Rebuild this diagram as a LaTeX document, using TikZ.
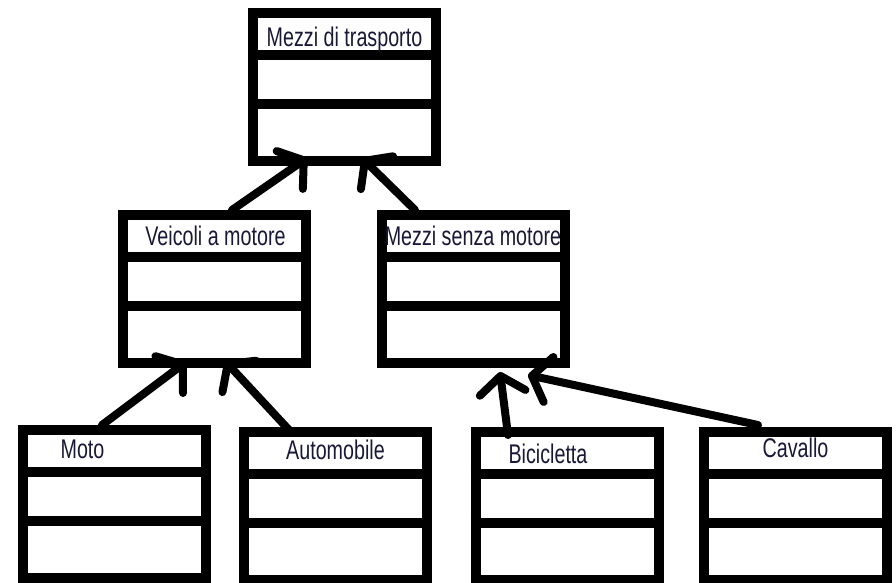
\documentclass[tikz,border=0pt]{standalone}
\usepackage{fontspec}
\newfontfamily\boxfont[FakeStretch=0.73]{Liberation Sans}
\usepackage{tikz}
\usetikzlibrary{positioning,arrows.meta,calc}

\definecolor{namecol}{RGB}{25,25,55}

\tikzset{
    classbox/.style={draw, line width=10pt, minimum width=183pt, minimum height=148pt, inner sep=0pt},
    classname/.style={anchor=base, text=namecol, font=\boxfont\fontsize{27}{32}\selectfont},
    divider/.style={line width=10pt},
    inherit/.style={line width=8pt, line cap=round, -{Straight Barb[length=17pt, width=46pt, round]}}
}

\begin{document}
\begin{tikzpicture}[x=1pt,y=-1pt]
    % Canvas
    \fill[white] (0,0) rectangle (896,582);
    \clip (0,0) rectangle (896,582);

    % Classes
    \node[classbox] (trasporto) at (344.5,87) {};
    \node[classbox] (motore) at (214.5,289) {};
    \node[classbox] (senzamotore) at (473,289) {};
    \node[classbox] (moto) at (114.5,504) {};
    \node[classbox] (automobile) at (335.5,506) {};
    \node[classbox] (bicicletta) at (567,506) {};
    \node[classbox] (cavallo) at (795.5,506) {};

    % Compartments
    \foreach \c in {trasporto,motore,senzamotore,moto,automobile,bicicletta,cavallo} {
        \draw[divider] ([yshift=-47pt]\c.north west) -- ([yshift=-47pt]\c.north east);
        \draw[divider] ([yshift=-96pt]\c.north west) -- ([yshift=-96pt]\c.north east);
    }

    % Names
    \node[classname] (ntrasporto) at ([yshift=-38pt]trasporto.north) {Mezzi di trasporto};
    \node[classname] (nmotore) at ([xshift=1pt,yshift=-35pt]motore.north) {Veicoli a motore};
    \node[classname] (nsenzamotore) at ([yshift=-35pt]senzamotore.north) {Mezzi senza motore};
    \node[classname] (nmoto) at ([xshift=-32pt,yshift=-33pt]moto.north) {Moto};
    \node[classname] (nautomobile) at ([yshift=-32pt]automobile.north) {Automobile};
    \node[classname] (nbicicletta) at ([xshift=-19pt,yshift=-36pt]bicicletta.north) {Bicicletta};
    \node[classname] (ncavallo) at ([yshift=-30pt]cavallo.north) {Cavallo};

    % Generalisations
    \draw[inherit] ([xshift=17.5pt]motore.north) -- ([xshift=-37.5pt,yshift=8pt]trasporto.south);
    \draw[inherit] ([xshift=-58pt]senzamotore.north) -- ([xshift=17.5pt,yshift=8pt]trasporto.south);
    \draw[inherit] ([xshift=-12.5pt]moto.north) -- ([xshift=-28.5pt,yshift=6pt]motore.south);
    \draw[inherit] ([xshift=-45.5pt,yshift=-4pt]automobile.north) -- ([xshift=10.5pt,yshift=7pt]motore.south);
    \draw[inherit] ([xshift=-59pt,yshift=-8pt]bicicletta.north) -- ([xshift=27pt,yshift=-4pt]senzamotore.south);
    \draw[inherit] ([xshift=-37.5pt,yshift=2pt]cavallo.north) -- ([xshift=55pt,yshift=-7pt]senzamotore.south);
\end{tikzpicture}
\end{document}
